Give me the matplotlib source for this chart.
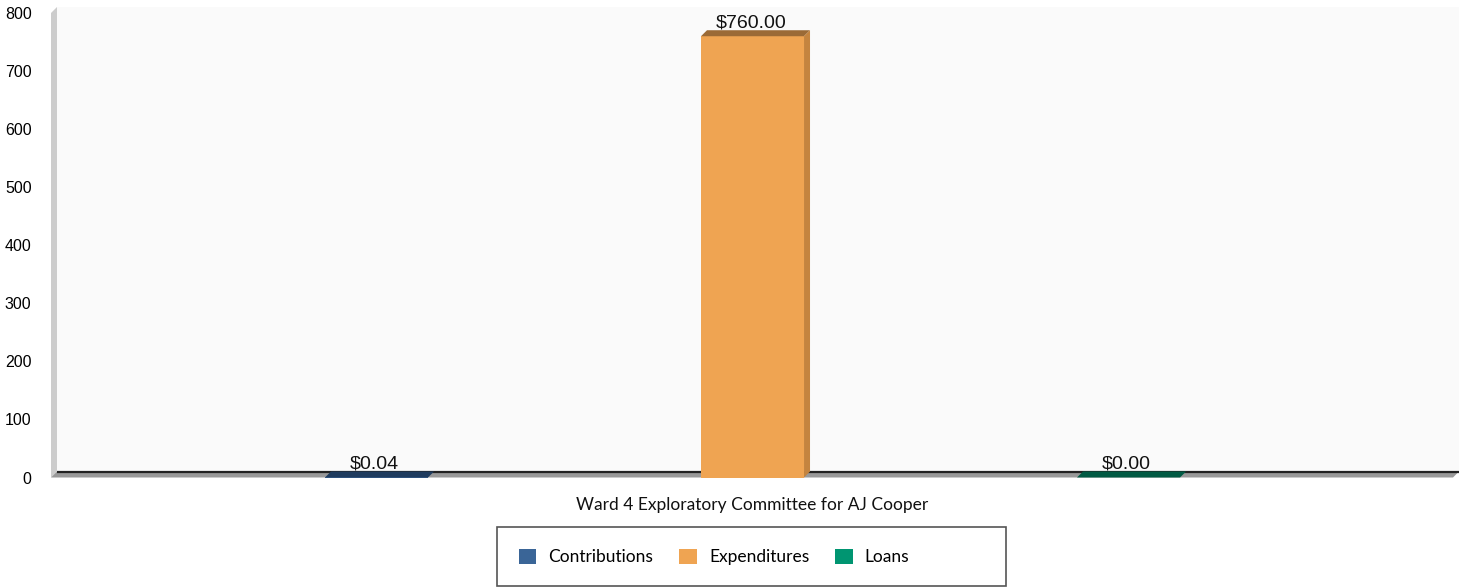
import matplotlib
matplotlib.use("Agg")
import matplotlib.pyplot as plt
from matplotlib.patches import Polygon, Rectangle, Patch

# ── data ───────────────────────────────────────────────────────────────
committee = "Ward 4 Exploratory Committee for AJ Cooper"
series = ["Contributions", "Expenditures", "Loans"]
values = [0.04, 760.00, 0.00]
value_labels = ["$0.04", "$760.00", "$0.00"]
yticks = [0, 100, 200, 300, 400, 500, 600, 700, 800]

# ── style ──────────────────────────────────────────────────────────────
front_colors = ["#3A6597", "#EFA452", "#009571"]
top_colors = ["#1F3B5E", "#9B6A36", "#005A43"]
side_colors = ["#2C4E78", "#C4843F", "#00704F"]

W, H = 1466, 587
fig = plt.figure(figsize=(W / 100, H / 100), dpi=100)
ax_left, ax_right = 51, 1453
ax_bottom, ax_top = 477.5, 13
ax = fig.add_axes([ax_left / W, (H - ax_bottom) / H,
                   (ax_right - ax_left) / W, (ax_bottom - ax_top) / H])

x0, x1 = -0.8657, 2.863
ax.set_xlim(x0, x1)
ax.set_ylim(0, 800)
for s in ax.spines.values():
    s.set_visible(False)
ax.patch.set_alpha(0)

# depth offset of the 3D effect (6 px), in data units
depth_px = 6
dx = depth_px * (x1 - x0) / (ax_right - ax_left)
dy = depth_px * 800 / (ax_bottom - ax_top)

# back plane, wall, floor
ax.add_patch(Rectangle((x0 + dx, dy), x1 - x0, 800, facecolor="#FAFAFA",
                       edgecolor="none", clip_on=False, zorder=0))
ax.add_patch(Polygon([(x0, 0), (x0 + dx, dy), (x0 + dx, 800 + dy), (x0, 800)],
                     closed=True, facecolor="#CCCCCC", edgecolor="none",
                     clip_on=False, zorder=1))
ax.add_patch(Polygon([(x0, 0), (x1, 0), (x1 + dx, dy), (x0 + dx, dy)],
                     closed=True, facecolor="#999999", edgecolor="none",
                     clip_on=False, zorder=1))
ax.plot([x0 + dx, x1 + dx], [dy, dy], color="#222222", lw=1.6,
        clip_on=False, zorder=2, solid_capstyle="butt")

# bars
width = 0.274
xs = list(range(len(series)))
bars = ax.bar(xs, values, width=width, color=front_colors, zorder=3,
              clip_on=False)
for i, b in enumerate(bars):
    l = b.get_x()
    r = l + b.get_width()
    h = b.get_height()
    ax.add_patch(Polygon([(l, h), (r, h), (r + dx, h + dy), (l + dx, h + dy)],
                         closed=True, facecolor=top_colors[i], edgecolor="none",
                         clip_on=False, zorder=4))
    if h > 0.5:
        ax.add_patch(Polygon([(r, 0), (r + dx, dy), (r + dx, h + dy), (r, h)],
                             closed=True, facecolor=side_colors[i],
                             edgecolor="none", clip_on=False, zorder=4))
    ax.text(xs[i] - 0.005, h + dy * 0.75, value_labels[i], ha="center",
            va="bottom", fontsize=14, family="Liberation Sans",
            color="#111111", zorder=5)

# axes ticks
ax.set_xticks([])
ax.set_yticks(yticks)
ax.set_yticklabels([str(t) for t in yticks], family="Liberation Sans",
                   fontsize=11.5)
ax.tick_params(axis="y", length=0, pad=14)

# category label
fig.text(752 / W, 1 - 505 / H, committee, ha="center", va="center",
         fontsize=12.5, family="Lato", color="#111111")

# legend: entries left aligned inside a wider box
fig.patches.append(Rectangle((497 / W, 1 - 586 / H), 509 / W, 59 / H,
                             transform=fig.transFigure, facecolor="white",
                             edgecolor="#555555", lw=1.2, zorder=0))
handles = [Patch(facecolor=c, edgecolor="none") for c in front_colors]
leg = fig.legend(handles, series, loc="center left",
                 bbox_to_anchor=(519 / W, 1 - 557 / H),
                 ncol=3, frameon=False,
                 prop={"family": "Lato", "size": 12.5}, handlelength=1.0,
                 handleheight=1.0, columnspacing=1.5, borderpad=0,
                 handletextpad=0.7, borderaxespad=0)

fig.savefig("out.png", dpi=100, facecolor="white")
